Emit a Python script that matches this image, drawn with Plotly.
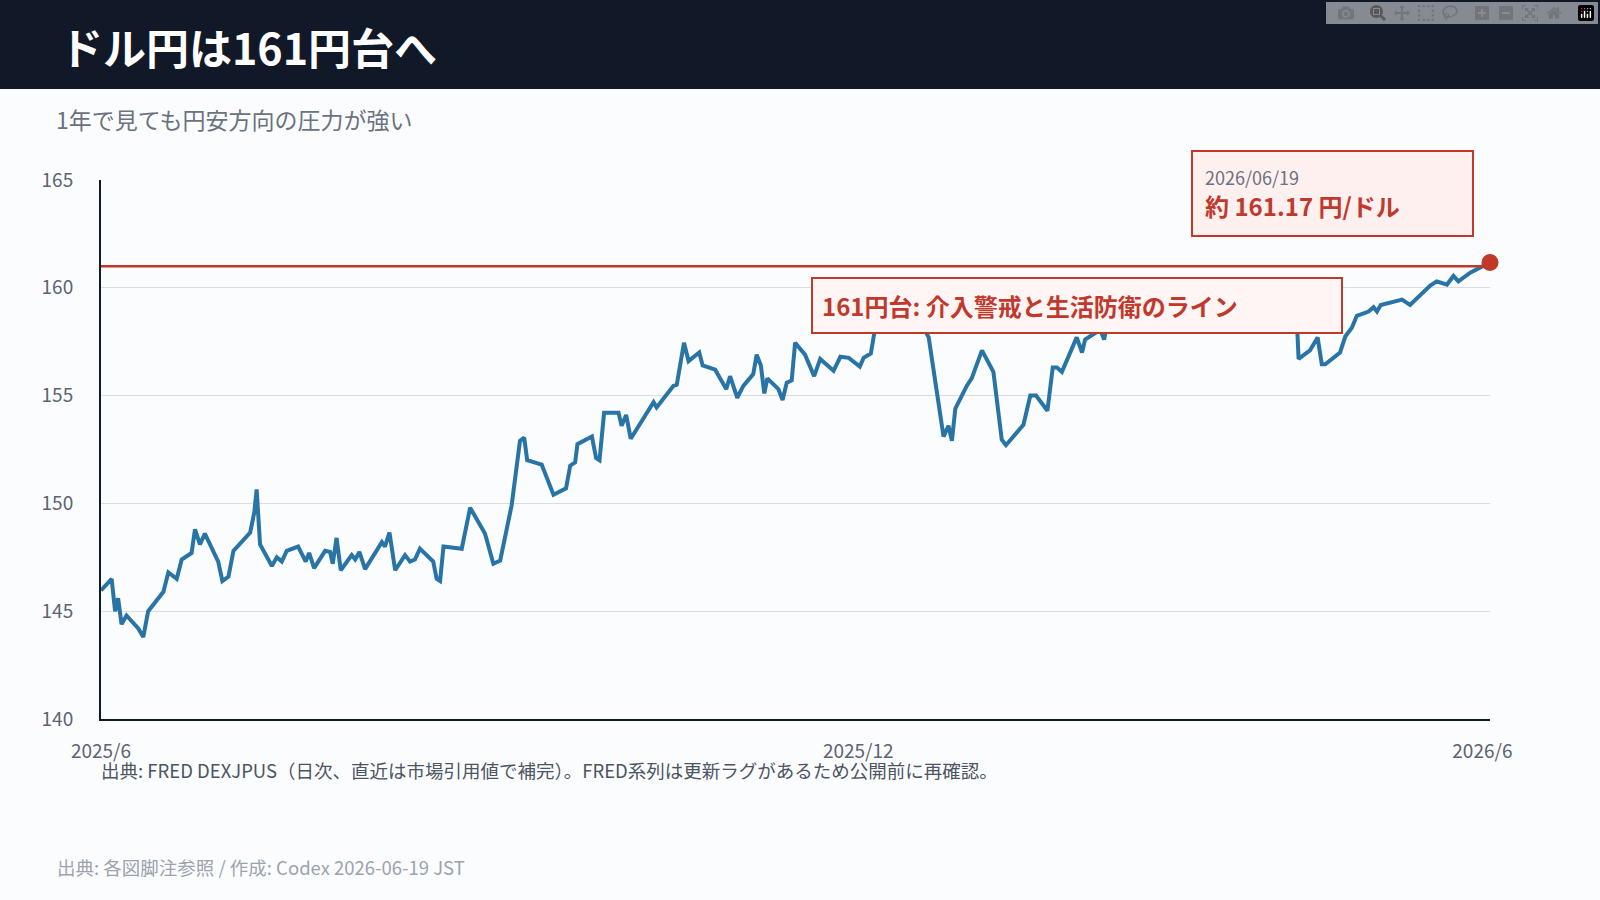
import pandas as pd
import plotly.graph_objects as go

start_date = "2025-06-19"
day_offsets = [0,2.8,3.7,4.5,5.4,6.7,9.8,11.1,12.4,16.4,17.7,19.9,21.2,23.8,24.7,26,27.3,30.8,31.9,33.5,34.8,39.2,40.3,40.9,41.8,44.9,46.2,47.5,48.8,51.8,53.8,54.7,56,58.9,60.2,60.9,61.9,63,65.9,66.8,67.9,69.4,73.8,74.6,75.8,77.3,79.9,81.2,82.5,83.8,87.3,88.2,89.1,90,94.8,97,100.9,103.1,104.9,107.9,110.1,111.2,112,115.8,118.9,122.2,123.3,124.6,125.2,129,130.1,131,132.2,136,136.8,138,139.2,145.2,146,150.4,151.3,153.2,154.4,157.2,158.1,161.4,164.3,165.3,167.2,168.8,171.4,172.3,173.4,174.3,175.1,178,179.1,180.2,181.5,182.4,185,187.4,189,192.5,194.3,196.5,199.4,200.4,202.3,203.4,206.5,210.4,214.4,216.1,217.5,221.4,222.7,223.6,224.5,227.5,228.8,231.5,234.5,236.7,237.8,242.4,244.2,245.7,248.7,250.1,251.2,252.5,256.4,257.8,258.6,262.6,263.6,264.3,270,280,290,302,310,313.8,314.7,317.7,319.7,320.8,321.7,325.6,327,328.7,330,333.1,334.4,335.3,336.3,341.9,344,349.3,351,353.7,355.4,356.7,359.8,365]
usd_jpy = [145.96,146.5,145.0,145.6,144.4,144.8,144.2,143.8,145.0,145.9,146.8,146.5,147.4,147.7,148.8,148.1,148.6,147.3,146.4,146.6,147.8,148.65,149.6,150.65,148.1,147.1,147.5,147.3,147.8,148.0,147.3,147.7,147.0,147.8,147.75,147.2,148.4,146.9,147.6,147.4,147.75,146.95,148.2,148.0,148.65,146.9,147.6,147.3,147.4,147.9,147.3,146.5,146.4,148.0,147.9,149.8,148.6,147.2,147.35,149.9,152.9,153.05,152.0,151.8,150.4,150.7,151.75,151.9,152.75,153.1,152.1,152.0,154.2,154.2,153.6,154.1,153.0,154.7,154.45,155.45,155.5,157.45,156.6,157.0,156.4,156.2,155.3,155.9,154.9,155.45,156.0,156.9,156.4,155.1,155.8,155.3,154.8,155.6,155.7,157.45,156.9,155.9,156.7,156.15,156.8,156.75,156.35,156.75,156.95,158.1,158.2,158.05,157.95,158.15,157.7,153.1,153.6,152.9,154.4,155.45,155.8,157.1,156.1,152.95,152.7,153.65,155.0,155.0,154.3,156.3,156.3,156.1,157.7,157.0,157.6,158.05,157.6,158.3,158.8,159.2,158.6,158.15,159.5,160.3,156.7,157.1,157.7,156.45,156.45,157.0,157.75,158.15,158.7,158.9,159.1,158.9,159.2,159.45,159.2,160.1,160.3,160.15,160.55,160.3,160.7,161.17]
tick_days = [0, 199, 363]
tick_labels = ["2025/6", "2025/12", "2026/6"]
y_ticks = [140, 145, 150, 155, 160, 165]
line_level = 161

t0 = pd.Timestamp(start_date)
dates = [t0 + pd.Timedelta(days=d) for d in day_offsets]
tickvals = [t0 + pd.Timedelta(days=d) for d in tick_days]

FONT = "Noto Sans CJK JP"
RED = "#c0392b"
fig = go.Figure()
fig.add_trace(go.Scatter(x=dates, y=usd_jpy, mode="lines",
                         line=dict(color="#2874a6", width=4), hoverinfo="skip"))
fig.add_trace(go.Scatter(x=[dates[-1]], y=[usd_jpy[-1]], mode="markers",
                         marker=dict(color=RED, size=17), cliponaxis=False))
fig.add_hline(y=line_level, line=dict(color=RED, width=2.5))

fig.update_layout(
    width=1600, height=900, showlegend=False,
    paper_bgcolor="#fbfcfd", plot_bgcolor="#fbfcfd",
    margin=dict(l=101, r=110, t=180, b=181),
    font=dict(family=FONT, color="#5b6472"),
    xaxis=dict(range=[dates[0], dates[-1]], tickvals=tickvals, ticktext=tick_labels,
               showgrid=False, showline=True, linecolor="#111827", linewidth=2,
               ticks="", ticklabelstandoff=14, tickfont=dict(size=19, color="#5b6472")),
    yaxis=dict(range=[140, 165], tickvals=y_ticks, showgrid=True, gridcolor="#d9dde3",
               showline=True, linecolor="#111827", linewidth=2, zeroline=False,
               ticks="", ticklabelstandoff=22, tickfont=dict(size=19, color="#5b6472")),
)

def py(p):
    return (719 - p) / 539
def px(p):
    return (p - 101) / 1389

fig.add_shape(type="rect", xref="paper", yref="paper", x0=px(0), x1=px(1600),
              y0=py(89), y1=py(0), fillcolor="#111827", line_width=0, layer="below")
anns = [
    dict(x=px(58), y=py(46), text="<b>ドル円は161円台へ</b>", font=dict(size=43, color="white")),
    dict(x=px(54), y=py(119), text="1年で見ても円安方向の圧力が強い", font=dict(size=23, color="#6b7280")),
    dict(x=px(99), y=py(770), text="出典: FRED DEXJPUS（日次、直近は市場引用値で補完）。FRED系列は更新ラグがあるため公開前に再確認。",
         font=dict(size=18.5, color="#4b5563")),
    dict(x=px(55), y=py(867), text="出典: 各図脚注参照 / 作成: Codex 2026-06-19 JST", font=dict(size=18.5, color="#9ca3af")),
]
for a in anns:
    fig.add_annotation(xref="paper", yref="paper", xanchor="left", yanchor="middle", showarrow=False, **a)

fig.add_annotation(xref="paper", yref="paper", x=px(811), y=py(305), xanchor="left", yanchor="middle",
                   showarrow=False, text="<b>161円台: 介入警戒と生活防衛のライン</b>",
                   font=dict(size=24, color=RED), bgcolor="#fff5f5", bordercolor=RED,
                   borderwidth=2, borderpad=9, width=510, align="left")
fig.add_annotation(xref="paper", yref="paper", x=px(1191), y=py(193), xanchor="left", yanchor="middle",
                   showarrow=False,
                   text="<span style='font-size:18px;color:#6b7280'>2026/06/19</span><br><b>約 161.17 円/ドル</b>",
                   font=dict(size=24, color=RED), bgcolor="#fff0f0", bordercolor=RED,
                   borderwidth=2, borderpad=12, width=255, align="left")

fig.write_html("out.html", post_script="document.body.style.margin='0';")
